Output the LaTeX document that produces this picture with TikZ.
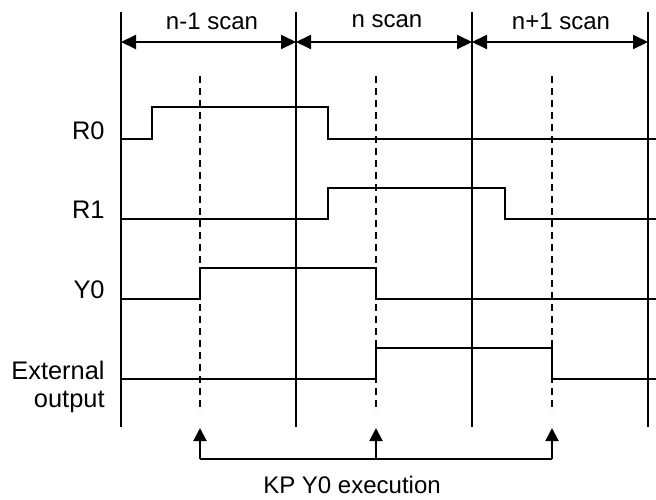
\documentclass[tikz,border=0pt]{standalone}
\usepackage{fontspec}
\setmainfont{Liberation Sans}
\usetikzlibrary{arrows.meta, positioning, calc}

\begin{document}
\begin{tikzpicture}[x=0.5pt, y=-0.5pt,
      ln/.style={line width=1pt},
      guide/.style={line width=1pt,
                    dash pattern=on 3.5pt off 2.5pt},
      span/.style={line width=1pt,
                   {Triangle[length=7.5pt, width=7pt]}-{Triangle[length=7.5pt, width=7pt]}},
      up/.style={line width=1pt,
                 -{Triangle[length=6.5pt, width=6.5pt]}},
      lbl/.style={font=\fontsize{12}{13.8}\selectfont,
                  inner sep=0pt},
      sname/.style={font=\fontsize{12.7}{14}\selectfont,
                  inner sep=0pt},
  ]
  \useasboundingbox (0,0) rectangle (656,499);
  % scan boundaries
  \draw[ln] (121,12) -- (121,427);
  \draw[ln] (296,12) -- (296,427);
  \draw[ln] (472,12) -- (472,427);
  \draw[ln] (648,12) -- (648,427);
  \coordinate (s0) at (121,42);
  \coordinate (s1) at (296,42);
  \coordinate (s2) at (472,42);
  \coordinate (s3) at (648,42);
  \draw[span] (s0) -- (s1);
  \draw[span] (s1) -- (s2);
  \draw[span] (s2) -- (s3);
  \node[lbl] (scanA) at (212,21.5) {n-1 scan};
  \node[lbl] (scanB) at (387,21.5) {n scan};
  \node[lbl] (scanC) at (561,21.5) {n+1 scan};
  % KP execution points
  \draw[guide] (200,76) -- (200,412);
  \draw[guide] (376,76) -- (376,412);
  \draw[guide] (552,76) -- (552,412);
  % signals
  \node[sname, anchor=east] (r0) at (105,131) {R0};
  \draw[ln] (121,139) -- (152,139) -- (152,107)
      -- (328,107) -- (328,139) -- (656,139);
  \node[sname, anchor=east] (r1) at (105,210) {R1};
  \draw[ln] (121,219) -- (328,219) -- (328,188)
      -- (505,188) -- (505,219) -- (656,219);
  \node[sname, anchor=east] (y0) at (105,290) {Y0};
  \draw[ln] (121,299) -- (200,299) -- (200,268)
      -- (376,268) -- (376,299) -- (656,299);
  \node[sname, anchor=north east, align=right] (ext)
      at (105,361) {External\\output};
  \draw[ln] (121,379) -- (376,379) -- (376,348)
      -- (552,348) -- (552,379) -- (656,379);
  % KP Y0 arrows
  \coordinate (k1) at (200,428);
  \coordinate (k2) at (376,428);
  \coordinate (k3) at (552,428);
  \coordinate (b1) at (200,459);
  \coordinate (b2) at (376,459);
  \coordinate (b3) at (552,459);
  \draw[up] (b1) -- (k1);
  \draw[up] (b2) -- (k2);
  \draw[up] (b3) -- (k3);
  \draw[ln] (b1) -- (b3);
  \node[lbl] (kp) at (352,484.5) {KP Y0 execution};
\end{tikzpicture}
\end{document}
